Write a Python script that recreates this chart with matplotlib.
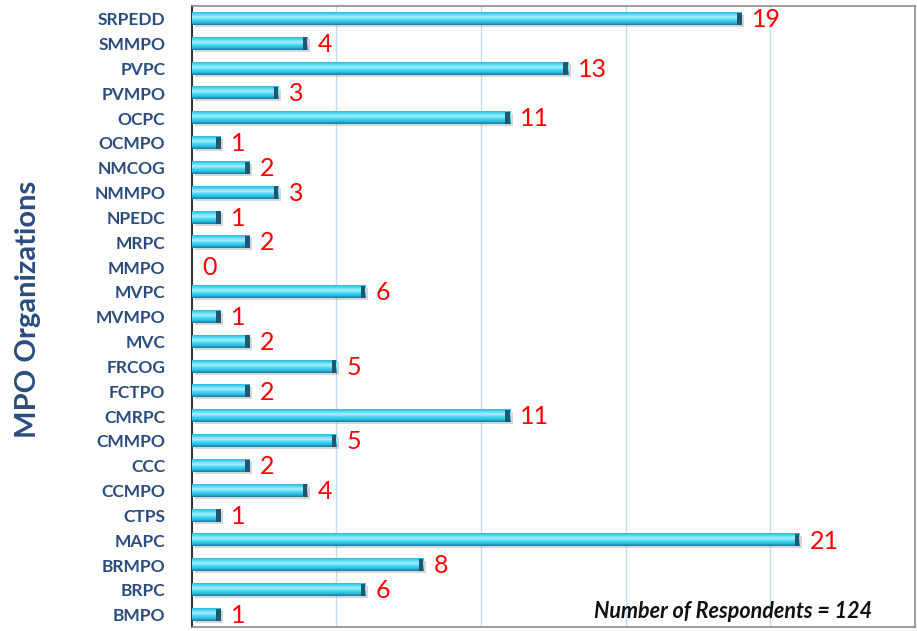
import matplotlib
matplotlib.use("Agg")
import matplotlib.pyplot as plt
import numpy as np
from matplotlib.colors import LinearSegmentedColormap

categories = ["SRPEDD", "SMMPO", "PVPC", "PVMPO", "OCPC", "OCMPO", "NMCOG", "NMMPO",
              "NPEDC", "MRPC", "MMPO", "MVPC", "MVMPO", "MVC", "FRCOG", "FCTPO",
              "CMRPC", "CMMPO", "CCC", "CCMPO", "CTPS", "MAPC", "BRMPO", "BRPC", "BMPO"]
values = [19, 4, 13, 3, 11, 1, 2, 3, 1, 2, 0, 6, 1, 2, 5, 2, 11, 5, 2, 4, 1, 21, 8, 6, 1]
note = "Number of Respondents = 124"
ylabel = "MPO Organizations"

fig = plt.figure(figsize=(9.17, 6.31), dpi=100)
ax = fig.add_axes([0.209, 0.006, 0.789, 0.984])

n = len(categories)
ypos = np.arange(n)[::-1]
h = 0.5

cmap = LinearSegmentedColormap.from_list(
    "cyl", ["#17799a", "#2abde0", "#48d6f5", "#aaf2fd", "#58dcf6", "#2cb8de"])
grad = np.linspace(0, 1, 64).reshape(-1, 1)

for y, v in zip(ypos, values):
    if v > 0:
        ax.barh(y - 0.08, v, height=h, left=0.1, color="#8a8a8a", alpha=0.35,
                zorder=2, linewidth=0)
        ax.imshow(grad, cmap=cmap, aspect="auto", origin="lower",
                  extent=(0, v, y - h / 2, y + h / 2), zorder=3, interpolation="bilinear")
        ax.barh(y, 0.16, left=v - 0.16, height=h, color="#1d5870", zorder=4, linewidth=0)
    ax.text(v + 0.35, y - 0.03, str(v), color="#ff0000", fontsize=18, family="Lato",
            va="center", ha="left", zorder=5)

ax.set_xlim(0, 25)
ax.set_ylim(-0.5, n - 0.5)
ax.set_xticks([5, 10, 15, 20])
ax.set_xticklabels([])
ax.tick_params(axis="x", length=0)
ax.grid(axis="x", color="#c9d9ec", linewidth=1, zorder=0)
ax.set_axisbelow(True)
ax.set_yticks(ypos)
ax.set_yticklabels(categories, fontsize=12.5, fontweight="bold", color="#2b4c7e", family="Lato")
ax.tick_params(axis="y", length=0, pad=19)
for s in ["top", "right", "bottom"]:
    ax.spines[s].set_color("#8c8c8c")
    ax.spines[s].set_linewidth(1.2)
ax.spines["left"].set_color("#333333")
ax.spines["left"].set_linewidth(1.5)

fig.text(0.031, 0.51, ylabel, rotation=90, fontsize=21, fontweight="bold",
         color="#2b4c7e", family="Lato", ha="center", va="center")
ax.text(0.94, 0.025, note, transform=ax.transAxes, fontsize=15.5, fontweight="bold",
        fontstyle="italic", family="Lato", ha="right", va="center", color="#111111")

fig.savefig("out.png", dpi=100)
